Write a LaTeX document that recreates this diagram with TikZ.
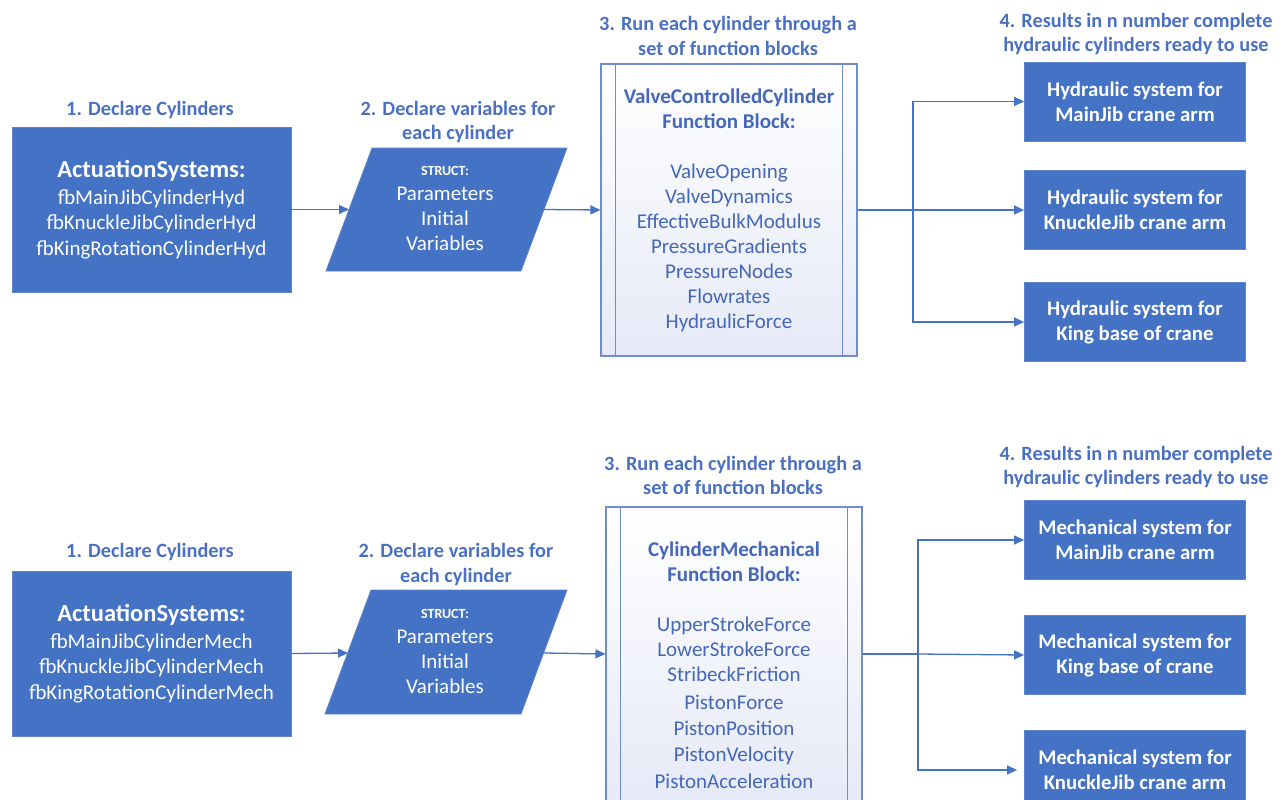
\documentclass[tikz,border=0pt]{standalone}
\usepackage{fontspec}
\setmainfont{Carlito}
\usetikzlibrary{arrows.meta,shadings}
\definecolor{obl}{HTML}{4472C4}
\definecolor{ttlc}{HTML}{4A70C4}
\definecolor{fbline}{HTML}{6F8CD0}
\definecolor{fbtxt}{HTML}{4467B8}
\definecolor{fbfill}{HTML}{E6EAF7}
\definecolor{boxedge}{HTML}{5F84CC}
\begin{document}
\begin{tikzpicture}[x=1pt,y=-1pt,
  ttl/.style={text=ttlc, font=\fontsize{20.3}{24.5}\selectfont\bfseries, align=center, inner sep=0pt},
  bluebox/.style={fill=obl, draw=boxedge, line width=0.8pt, text=white, align=center, inner sep=0pt},
  resbox/.style={bluebox, minimum width=221pt, minimum height=79pt, font=\fontsize{20.8}{25}\selectfont\bfseries},
  actbox/.style={bluebox, minimum width=279pt, minimum height=165pt, font=\fontsize{21}{25.5}\selectfont},
  para/.style={fill=obl, draw=boxedge, line width=0.8pt},
  paratext/.style={text=white, align=center, inner sep=0pt, font=\fontsize{21}{25}\selectfont},
  fbbox/.style={draw=fbline, line width=1.1pt, top color=white, bottom color=fbfill, inner sep=0pt},
  fbinner/.style={draw=fbline, line width=1.1pt},
  fbtext/.style={text=fbtxt, align=center, inner sep=0pt, font=\fontsize{21}{25}\selectfont},
  conn/.style={draw=obl, line width=1.3pt, -{Triangle[length=10pt,width=9pt]}},
  line/.style={draw=obl, line width=1.3pt}]
\useasboundingbox (0,0) rectangle (1288,800);

% ================= TOP ROW =================
\node[ttl] (t1a) at (150,110) {1. Declare Cylinders};
\node[ttl] (t2a) at (458,122) {2. Declare variables for\\each cylinder};
\node[ttl] (t3a) at (728,36) {3. Run each cylinder through a\\set of function blocks};
\node[ttl] (t4a) at (1136,34) {4. Results in n number complete\\hydraulic cylinders ready to use};

\node[actbox] (a1) at (151.5,209.5) {{\fontsize{24.5}{25.5}\selectfont\bfseries ActuationSystems:}\\[1pt]fbMainJibCylinderHyd\\fbKnuckleJibCylinderHyd\\fbKingRotationCylinderHyd};

\draw[para] (372,148) -- (567,148) -- (521,271) -- (326,271) -- cycle;
\coordinate (p1in) at (349,209.5);
\coordinate (p1out) at (544,209.5);
\node[paratext] (s1) at (445,208) {{\fontsize{14}{25}\selectfont\bfseries STRUCT:}\\Parameters\\Initial\\Variables};

\node[fbbox, minimum width=256pt, minimum height=292pt] (fb1) at (729,210) {};
\draw[fbinner] ([xshift=15pt]fb1.north west) -- ([xshift=15pt]fb1.south west);
\draw[fbinner] ([xshift=-15pt]fb1.north east) -- ([xshift=-15pt]fb1.south east);
\node[fbtext] (fbt1) at (729,210) {\textbf{ValveControlledCylinder}\\\textbf{Function Block:}\\[25pt]ValveOpening\\ValveDynamics\\EffectiveBulkModulus\\PressureGradients\\PressureNodes\\Flowrates\\HydraulicForce};

\node[resbox] (r1) at (1135,101.5) {Hydraulic system for\\MainJib crane arm};
\node[resbox] (r2) at (1135,210) {Hydraulic system for\\KnuckleJib crane arm};
\node[resbox] (r3) at (1135,322) {Hydraulic system for\\King base of crane};

\draw[conn] (a1.east) -- (p1in);
\draw[conn] (p1out) -- (fb1.west);
\coordinate (j1) at (913,210);
\draw[line] (fb1.east) -- (j1);
\draw[conn] (j1) -- (r2.west);
\draw[conn] (j1) |- (r1.west);
\draw[conn] (j1) |- (r3.west);

% ================= BOTTOM ROW =================
\node[ttl] (t1b) at (150,552) {1. Declare Cylinders};
\node[ttl] (t2b) at (456,564.5) {2. Declare variables for\\each cylinder};
\node[ttl] (t3b) at (733,475.5) {3. Run each cylinder through a\\set of function blocks};
\node[ttl] (t4b) at (1136,467) {4. Results in n number complete\\hydraulic cylinders ready to use};

\node[actbox] (a2) at (151.5,653.5) {{\fontsize{24.5}{25.5}\selectfont\bfseries ActuationSystems:}\\[1pt]fbMainJibCylinderMech\\fbKnuckleJibCylinderMech\\fbKingRotationCylinderMech};

\draw[para] (371,590) -- (567,590) -- (521,714) -- (325,714) -- cycle;
\coordinate (p2in) at (348,653);
\coordinate (p2out) at (544,653);
\node[paratext] (s2) at (445,651) {{\fontsize{14}{25}\selectfont\bfseries STRUCT:}\\Parameters\\Initial\\Variables};

\node[fbbox, minimum width=256pt, minimum height=294pt] (fb2) at (734,654) {};
\draw[fbinner] ([xshift=15pt]fb2.north west) -- ([xshift=15pt]fb2.south west);
\draw[fbinner] ([xshift=-15pt]fb2.north east) -- ([xshift=-15pt]fb2.south east);
\node[fbtext] (fbt2) at (734,665) {\textbf{CylinderMechanical}\\\textbf{Function Block:}\\[25pt]UpperStrokeForce\\LowerStrokeForce\\StribeckFriction\\[3pt]PistonForce\\[1.3pt]PistonPosition\\[1.3pt]PistonVelocity\\[1.3pt]PistonAcceleration};

\node[resbox] (r4) at (1135,540) {Mechanical system for\\MainJib crane arm};
\node[resbox] (r5) at (1135,655) {Mechanical system for\\King base of crane};
\node[resbox] (r6) at (1135,770) {Mechanical system for\\KnuckleJib crane arm};

\draw[conn] (a2.east) -- (p2in);
\draw[conn] (p2out) -- (fb2.west);
\coordinate (j2) at (918,654);
\draw[line] (fb2.east) -- (j2);
\draw[conn] (j2) -- (r5.west);
\draw[conn] (j2) |- (r4.west);
\draw[conn, shorten >=7pt] (j2) |- (r6.west);
\end{tikzpicture}
\end{document}
